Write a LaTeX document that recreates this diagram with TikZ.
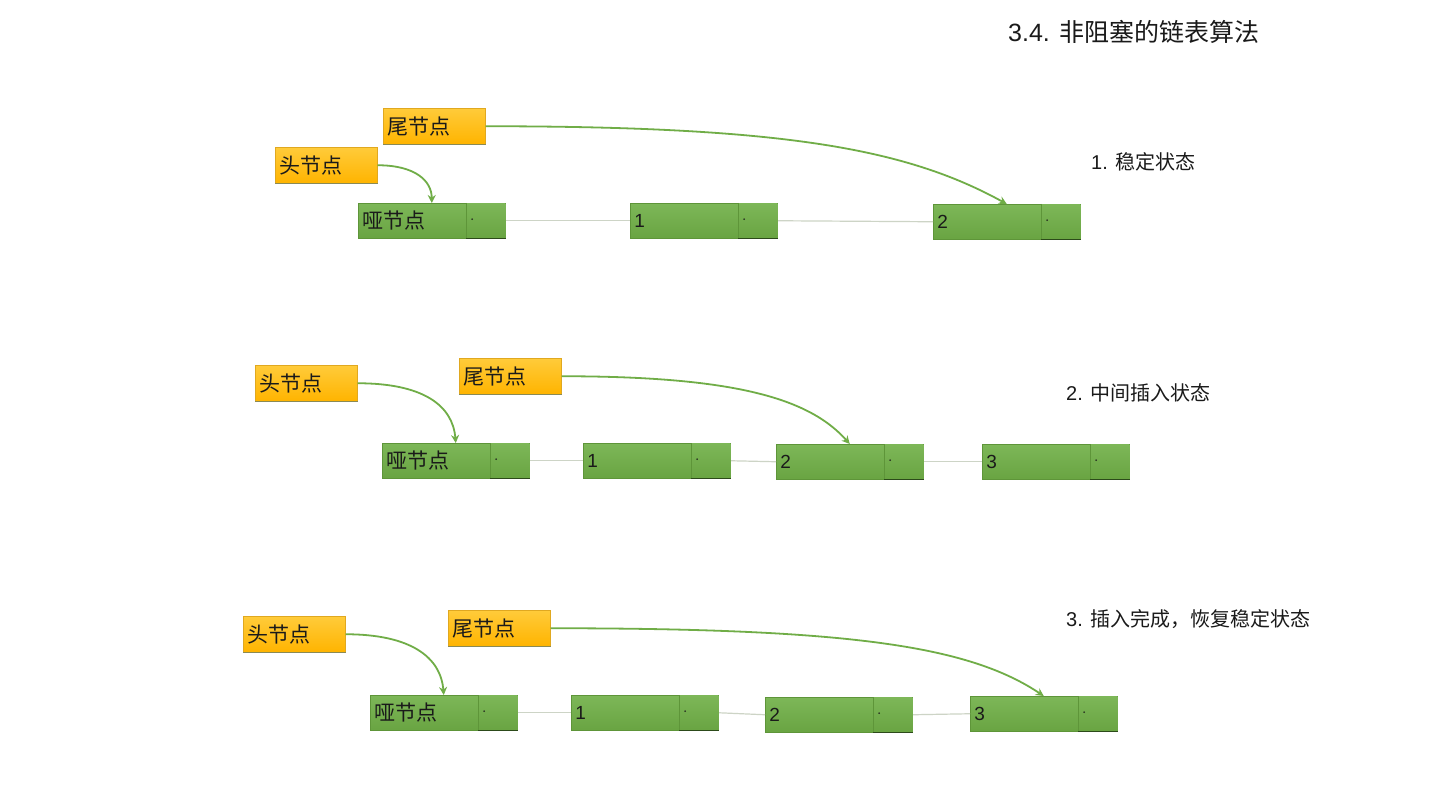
\documentclass[tikz,border=0pt]{standalone}
\usepackage{fontspec}
\setmainfont{Liberation Sans}
\newfontfamily\cjk{Noto Sans CJK SC}
\usetikzlibrary{calc,arrows.meta}
\definecolor{gtop}{HTML}{7DB758}
\definecolor{gbot}{HTML}{69A442}
\definecolor{gedge}{HTML}{5E9539}
\definecolor{gdark}{HTML}{2C4A1A}
\definecolor{otop}{HTML}{FFCB3A}
\definecolor{obot}{HTML}{FFB400}
\definecolor{oedge}{HTML}{E0A820}
\definecolor{oshadow}{HTML}{8A8A55}
\definecolor{arrowg}{HTML}{70AD47}
\definecolor{linkc}{HTML}{CDD4C6}
\definecolor{txt}{HTML}{1A1A1A}
\tikzset{
  ptrbox/.style={rectangle, anchor=north west, inner xsep=4pt, inner ysep=0pt,
    text width=94pt, align=left, minimum height=36pt,
    top color=otop, bottom color=obot, draw=oedge, line width=0.5pt,
    text=txt, font=\fontsize{21}{21}\selectfont\cjk},
  listbox/.style={rectangle, anchor=north west, inner xsep=4pt, inner ysep=0pt,
    text width=139pt, align=left, minimum height=35pt,
    top color=gtop, bottom color=gbot, draw=gedge, line width=0.5pt,
    text=txt, font=\fontsize{21}{21}\selectfont\cjk},
  numfont/.style={font=\fontsize{19}{19}\selectfont},
  cellbox/.style={rectangle, anchor=north east, minimum width=39pt, minimum height=35pt,
    inner sep=0pt, top color=gtop, bottom color=gbot},
  cellline/.style={draw=gdark, line width=1.6pt},
  divline/.style={draw=gedge, line width=0.6pt},
  shadowline/.style={draw=oshadow, line width=1pt},
  dotmark/.style={fill=txt},
  linkline/.style={draw=linkc, line width=1.2pt},
  curvearrow/.style={draw=arrowg, line width=1.8pt, -{Stealth[length=8pt,width=8pt]}},
  caption/.style={anchor=west, inner sep=0pt, text=txt, font=\fontsize{20}{20}\selectfont},
  titletext/.style={anchor=west, inner sep=0pt, text=txt, font=\fontsize{25}{25}\selectfont},
}
\newcommand{\mkcell}[1]{%
  \node[cellbox] (#1c) at (#1.north east) {};
  \draw[divline] (#1c.north west) -- (#1c.south west);
  \draw[cellline] (#1c.south west) -- (#1c.south east);
  \fill[dotmark] ($(#1c.west)+(6,-1.5)$) circle (0.9);
}
\newcommand{\mkshadow}[1]{%
  \draw[shadowline] (#1.south west) -- (#1.south east);
}
\begin{document}
\begin{tikzpicture}[x=1pt,y=-1pt]
\useasboundingbox[fill=white] (0,0) rectangle (1440,810);

% title and captions
\node[titletext] (title) at (1008,32) {3.4. {\cjk 非阻塞的链表算法}};
\node[caption] (cap1) at (1091,162) {1. {\cjk 稳定状态}};
\node[caption] (cap2) at (1066,393) {2. {\cjk 中间插入状态}};
\node[caption] (cap3) at (1066,619) {3. {\cjk 插入完成，恢复稳定状态}};

% ---------------- row 1 ----------------
\node[listbox] (d1) at (358,203) {哑节点};
\node[listbox, numfont] (a1) at (630,203) {1};
\node[listbox, numfont] (b1) at (933,204) {2};
\draw[linkline] (d1.east) -- (a1.west);
\draw[linkline] (a1.east) -- (b1.west);
\mkcell{d1}\mkcell{a1}\mkcell{b1}
\node[ptrbox] (t1) at (383,108) {尾节点};
\node[ptrbox] (h1) at (275,147) {头节点};
\mkshadow{t1}\mkshadow{h1}
\draw[curvearrow] (h1.east) .. controls +(38,0) and +(0,-22) .. (d1.north);
\draw[curvearrow] (t1.east) .. controls +(300,0) and +(-100,-55) .. (b1.north);

% ---------------- row 2 ----------------
\node[listbox] (d2) at (382,443) {哑节点};
\node[listbox, numfont] (a2) at (583,443) {1};
\node[listbox, numfont] (b2) at (776,444) {2};
\node[listbox, numfont] (c2) at (982,444) {3};
\draw[linkline] (d2.east) -- (a2.west);
\draw[linkline] (a2.east) -- (b2.west);
\draw[linkline] (b2.east) -- (c2.west);
\mkcell{d2}\mkcell{a2}\mkcell{b2}\mkcell{c2}
\node[ptrbox] (h2) at (255,365) {头节点};
\node[ptrbox] (t2) at (459,358) {尾节点};
\mkshadow{h2}\mkshadow{t2}
\draw[curvearrow] (h2.east) .. controls +(65,0) and +(-3,-38) .. (d2.north);
\draw[curvearrow] (t2.east) .. controls +(175,0) and +(-40,-45) .. (b2.north);

% ---------------- row 3 ----------------
\node[listbox] (d3) at (370,695) {哑节点};
\node[listbox, numfont] (a3) at (571,695) {1};
\node[listbox, numfont] (b3) at (765,697) {2};
\node[listbox, numfont] (c3) at (970,696) {3};
\draw[linkline] (d3.east) -- (a3.west);
\draw[linkline] (a3.east) -- (b3.west);
\draw[linkline] (b3.east) -- (c3.west);
\mkcell{d3}\mkcell{a3}\mkcell{b3}\mkcell{c3}
\node[ptrbox] (h3) at (243,616) {头节点};
\node[ptrbox] (t3) at (448,610) {尾节点};
\mkshadow{h3}\mkshadow{t3}
\draw[curvearrow] (h3.east) .. controls +(65,0) and +(-3,-38) .. (d3.north);
\draw[curvearrow] (t3.east) .. controls +(300,0) and +(-75,-50) .. (c3.north);
\end{tikzpicture}
\end{document}
